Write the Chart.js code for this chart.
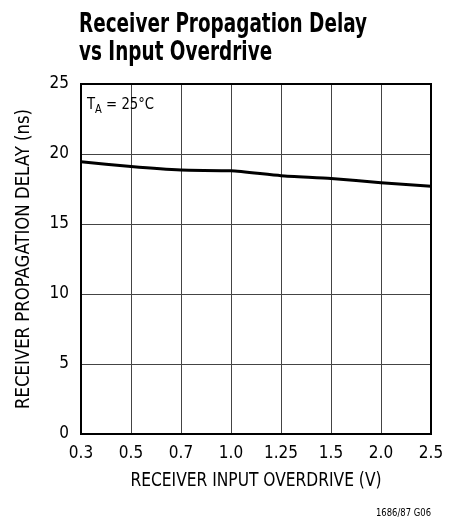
<!DOCTYPE html>
<html>
<head>
<meta charset="utf-8">
<script src="https://cdn.jsdelivr.net/npm/chart.js@4"></script>
<style>
  html, body { margin: 0; padding: 0; background: #fff; }
  #wrap { position: relative; width: 458px; height: 518px; }
</style>
</head>
<body>
<div id="wrap"><canvas id="delayChart" width="458" height="518"></canvas></div>
<script>
'use strict';

// values
const overdrive = ['0.3', '0.5', '0.7', '1.0', '1.25', '1.5', '2.0', '2.5'];
const delayNs = [19.45, 19.1, 18.85, 18.8, 18.45, 18.25, 17.95, 17.7];
const yTicks = [0, 5, 10, 15, 20, 25];

const FONT = '"DejaVu Sans Condensed", "Liberation Sans", sans-serif';

// draws text squeezed to a given width, like the narrow face in the original
function narrowText(ctx, text, x, y, width, align) {
  let w = ctx.measureText(text).width;
  let sx = width / w;
  ctx.save();
  ctx.translate(x, y);
  ctx.scale(sx, 1);
  ctx.textAlign = align;
  ctx.fillText(text, 0, 0);
  ctx.restore();
}

let textPlugin = {
  id: 'extraText',
  afterDraw: function(chart) {
    let ctx = chart.ctx;
    let area = chart.chartArea;
    ctx.save();
    ctx.fillStyle = '#000';
    ctx.textBaseline = 'alphabetic';

    // title
    ctx.font = 'bold 26px ' + FONT;
    narrowText(ctx, 'Receiver Propagation Delay', 79, 32, 288, 'left');
    let w1 = ctx.measureText('Receiver Propagation Delay').width;
    let w2 = ctx.measureText('vs Input Overdrive').width;
    narrowText(ctx, 'vs Input Overdrive', 79, 60, 288 * w2 / w1, 'left');

    // axis titles
    ctx.font = '20px ' + FONT;
    narrowText(ctx, 'RECEIVER INPUT OVERDRIVE (V)', (area.left + area.right) / 2, 486, 251, 'center');
    ctx.save();
    ctx.translate(29, (area.top + area.bottom) / 2);
    ctx.rotate(-Math.PI / 2);
    narrowText(ctx, 'RECEIVER PROPAGATION DELAY (ns)', 0, 0, 300, 'center');
    ctx.restore();

    // T_A annotation
    let x = area.left + 6;
    let y = area.top + 25;
    ctx.font = '16px ' + FONT;
    ctx.save();
    ctx.translate(x, y);
    ctx.scale(0.92, 1);
    ctx.textAlign = 'left';
    ctx.fillText('T', 0, 0);
    let tw = ctx.measureText('T').width;
    ctx.font = '12px ' + FONT;
    ctx.fillText('A', tw, 4);
    let aw = ctx.measureText('A').width;
    ctx.font = '16px ' + FONT;
    ctx.fillText(' = 25\u00B0C', tw + aw, 0);
    ctx.restore();

    // footnote
    ctx.font = '10px ' + FONT;
    narrowText(ctx, '1686/87 G06', 431, 516, 55, 'right');
    ctx.restore();
  }
};

let ctx = document.getElementById('delayChart');
let chartOptions = {
  type: 'line',
  data: {
    labels: overdrive,
    datasets: [{
      label: 'Delay',
      data: delayNs,
      borderColor: '#000',
      borderWidth: 3,
      pointRadius: 0,
      tension: 0.2,
      fill: false,
    }],
  },
  options: {
    responsive: false,
    animation: false,
    devicePixelRatio: 1,
    layout: {
      padding: { top: 84, left: 0, right: 27, bottom: 40 },
    },
    plugins: {
      legend: { display: false },
      tooltip: { enabled: false },
      title: { display: false },
    },
    scales: {
      x: {
        type: 'category',
        offset: false,
        afterFit: function(scale) { scale.height = 44; },
        grid: {
          color: '#444',
          lineWidth: 1,
          drawTicks: false,
        },
        border: { color: '#000', width: 2 },
        ticks: {
          color: '#000',
          padding: 9,
          maxRotation: 0,
          autoSkip: false,
          font: { family: FONT, size: 17 },
        },
      },
      y: {
        min: 0,
        max: 25,
        afterFit: function(scale) { scale.width = 81; },
        afterBuildTicks: function(scale) {
          scale.ticks = yTicks.map((v) => ({ value: v }));
        },
        grid: {
          color: '#444',
          lineWidth: 1,
          drawTicks: false,
        },
        border: { color: '#000', width: 2 },
        ticks: {
          color: '#000',
          padding: 12,
          font: { family: FONT, size: 17 },
        },
      },
    },
  },
  plugins: [textPlugin, {
    id: 'frame',
    afterDatasetsDraw: function(chart) {
      let c = chart.ctx;
      let a = chart.chartArea;
      c.save();
      c.strokeStyle = '#000';
      c.lineWidth = 2;
      c.strokeRect(a.left, a.top, a.right - a.left, a.bottom - a.top);
      c.restore();
    }
  }],
};
let delayChart = new Chart(ctx, chartOptions);
</script>
</body>
</html>
